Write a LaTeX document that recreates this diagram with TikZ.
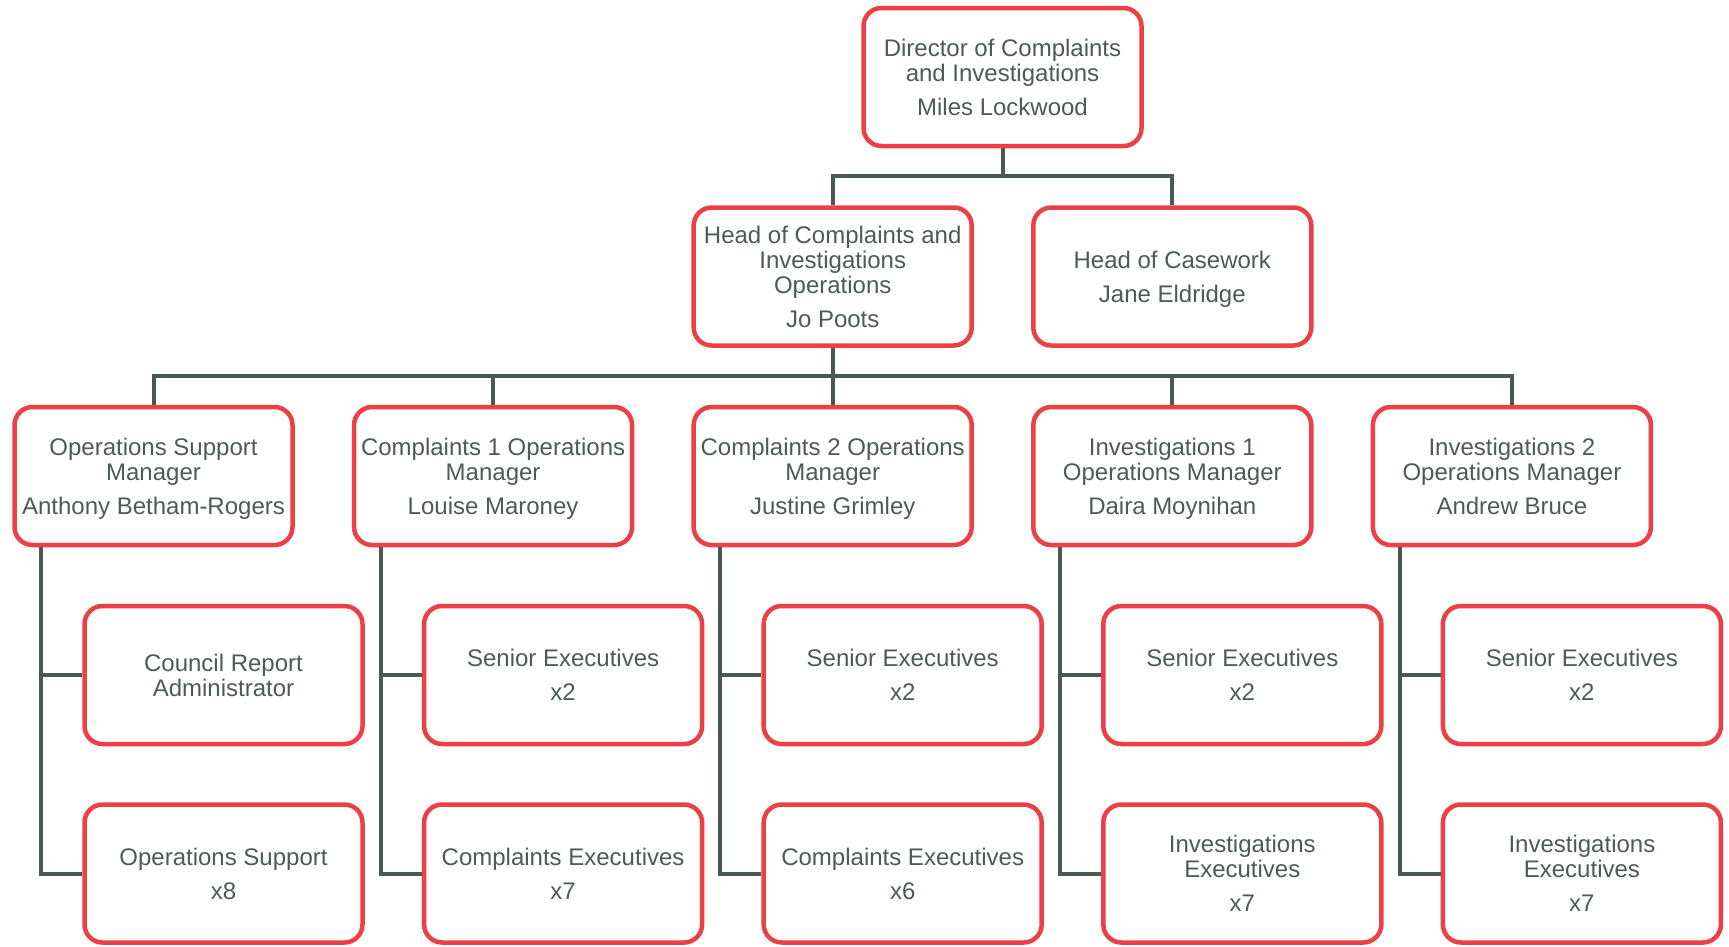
\documentclass[tikz,border=0pt]{standalone}
\usepackage{fontspec}
\setmainfont{Liberation Sans}
\definecolor{boxred}{RGB}{236,64,70}
\definecolor{linegray}{RGB}{74,90,80}
\definecolor{textgray}{RGB}{76,92,83}
\newcommand\nodesc[1]{\raisebox{0pt}[\height][0pt]{#1}}
\tikzset{
  orgbox/.style={draw=boxred, line width=4.5pt, rounded corners=18pt, fill=white,
    minimum width=278pt, minimum height=138pt, inner sep=0pt, align=center,
    text=textgray, font=\fontsize{24}{25}\selectfont},
  conn/.style={draw=linegray, line width=4pt}
}
\begin{document}
\begin{tikzpicture}[x=1pt,y=-1pt]
\useasboundingbox (0,0) rectangle (1729,946);
\coordinate (ya) at (0,176);
\coordinate (yb) at (0,376);
% level 1
\node[orgbox] (dir) at (1002.5,77) {Director of Complaints\\and Investigations\\[9pt]\nodesc{Miles Lockwood}};
% level 2
\node[orgbox] (hci) at (832.7,276.5) {Head of Complaints and\\Investigations\\Operations\\[9pt]\nodesc{Jo Poots}};
\node[orgbox] (hcw) at (1172.3,276.5) {Head of Casework\\[9pt]\nodesc{Jane Eldridge}};
% level 3
\node[orgbox] (c0) at (153.5,476) {Operations Support\\Manager\\[9pt]\nodesc{Anthony Betham-Rogers}};
\node[orgbox] (c1) at (493.1,476) {Complaints 1 Operations\\Manager\\[9pt]\nodesc{Louise Maroney}};
\node[orgbox] (c2) at (832.7,476) {Complaints 2 Operations\\Manager\\[9pt]\nodesc{Justine Grimley}};
\node[orgbox] (c3) at (1172.3,476) {Investigations 1\\Operations Manager\\[9pt]\nodesc{Daira Moynihan}};
\node[orgbox] (c4) at (1511.9,476) {Investigations 2\\Operations Manager\\[9pt]\nodesc{Andrew Bruce}};
% level 4
\node[orgbox] (d0) at (223.5,675) {Council Report\\\nodesc{Administrator}};
\node[orgbox] (d1) at (563.1,675) {Senior Executives\\[9pt]x2};
\node[orgbox] (d2) at (902.7,675) {Senior Executives\\[9pt]x2};
\node[orgbox] (d3) at (1242.3,675) {Senior Executives\\[9pt]x2};
\node[orgbox] (d4) at (1581.9,675) {Senior Executives\\[9pt]x2};
% level 5
\node[orgbox] (e0) at (223.5,873.5) {Operations Support\\[9pt]x8};
\node[orgbox] (e1) at (563.1,873.5) {Complaints Executives\\[9pt]x7};
\node[orgbox] (e2) at (902.7,873.5) {Complaints Executives\\[9pt]x6};
\node[orgbox] (e3) at (1242.3,873.5) {Investigations\\Executives\\[9pt]x7};
\node[orgbox] (e4) at (1581.9,873.5) {Investigations\\Executives\\[9pt]x7};
% connectors level 1 -> 2
\draw[conn] (dir.south) -- (dir.south |- ya);
\draw[conn] (hci.north) -- (hci.north |- ya) -- (hcw.north |- ya) -- (hcw.north);
% level 2 -> 3
\draw[conn] (hci.south) -- (hci.south |- yb);
\draw[conn] (c0.north) -- (c0.north |- yb) -- (c4.north |- yb) -- (c4.north);
\draw[conn] (c1.north) -- (c1.north |- yb);
\draw[conn] (c2.north) -- (c2.north |- yb);
\draw[conn] (c3.north) -- (c3.north |- yb);
% level 3 -> 4,5
\foreach \i in {0,1,2,3,4}{
  \draw[conn] ([xshift=29pt]c\i.south west) |- (e\i.west);
  \draw[conn] ([xshift=29pt]c\i.south west) |- (d\i.west);
}
\end{tikzpicture}
\end{document}
